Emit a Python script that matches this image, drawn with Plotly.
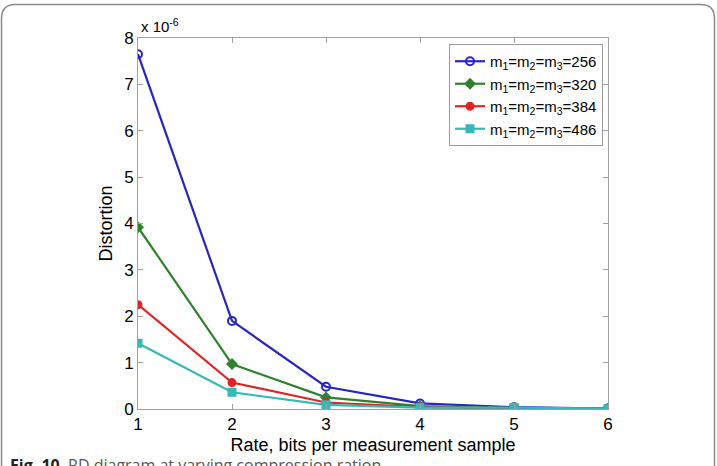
import plotly.graph_objects as go

rate = [1, 2, 3, 4, 5, 6]
d256 = [7.65, 1.90, 0.48, 0.12, 0.04, 0.01]
d320 = [3.92, 0.97, 0.25, 0.06, 0.02, 0.005]
d384 = [2.25, 0.57, 0.14, 0.04, 0.01, 0.003]
d486 = [1.42, 0.36, 0.09, 0.03, 0.03, 0.01]
names = ["m<sub>1</sub>=m<sub>2</sub>=m<sub>3</sub>=256",
         "m<sub>1</sub>=m<sub>2</sub>=m<sub>3</sub>=320",
         "m<sub>1</sub>=m<sub>2</sub>=m<sub>3</sub>=384",
         "m<sub>1</sub>=m<sub>2</sub>=m<sub>3</sub>=486"]
colors = ["#2626c0", "#2e822e", "#e02424", "#35b8b8"]
symbols = ["circle-open", "diamond", "circle", "square"]

W, H = 717, 466
L, R, T, B = 138, 608, 38, 409
fig = go.Figure()
for y, n, c, s in zip([d256, d320, d384, d486], names, colors, symbols):
    fig.add_trace(go.Scatter(
        x=rate, y=y, name=n, mode="lines+markers",
        line=dict(color=c, width=2.2),
        marker=dict(symbol=s, size=8 if s == "circle-open" else 7, color=c,
                    line=dict(color=c, width=2))))

font = "Liberation Sans, Arial, sans-serif"
fig.update_layout(
    width=W, height=H,
    margin=dict(l=L, r=W - R, t=T, b=H - B),
    paper_bgcolor="white", plot_bgcolor="white",
    font=dict(family=font, color="black", size=15),
    showlegend=True,
    legend=dict(x=(603 - L) / (R - L), y=(409 - 44) / (B - T),
                xanchor="right", yanchor="top",
                bordercolor="#9a9a9a", borderwidth=1, bgcolor="white",
                font=dict(size=15, family=font), tracegroupgap=4,
                itemwidth=30),
    xaxis=dict(range=[1, 6], tickvals=[1, 2, 3, 4, 5, 6], showgrid=False,
               zeroline=False, showline=True, linecolor="#a0a0a0", linewidth=1,
               mirror="ticks", ticks="inside", ticklen=5, tickcolor="#a0a0a0",
               tickfont=dict(size=17),
               title=dict(text="Rate, bits per measurement sample",
                          font=dict(size=18), standoff=4)),
    yaxis=dict(range=[0, 8], tickvals=list(range(9)), showgrid=False,
               zeroline=False, showline=True, linecolor="#a0a0a0", linewidth=1,
               mirror="ticks", ticks="inside", ticklen=5, tickcolor="#a0a0a0",
               tickfont=dict(size=17),
               title=dict(text="Distortion", font=dict(size=18), standoff=6)),
)

def px(x):
    return (x - L) / (R - L)

def py(y):
    return (B - y) / (B - T)

# exponent label
fig.add_annotation(x=px(139), y=py(37), xref="paper", yref="paper",
                   text="x 10<sup>-6</sup>", showarrow=False,
                   xanchor="left", yanchor="bottom",
                   font=dict(size=15, family=font))

# card border with rounded top corners
r = 14
x0, x1, y0, y1 = 1.5, 714.5, 4.5, 480
path = (f"M {px(x0)},{py(y1)} L {px(x0)},{py(y0 + r)} "
        f"Q {px(x0)},{py(y0)} {px(x0 + r)},{py(y0)} "
        f"L {px(x1 - r)},{py(y0)} Q {px(x1)},{py(y0)} {px(x1)},{py(y0 + r)} "
        f"L {px(x1)},{py(y1)}")
fig.add_shape(type="path", path=path, xref="paper", yref="paper",
              line=dict(color="#8a8a8a", width=1.5))

# caption (partially cropped at the bottom edge, as in the reference)
fig.add_annotation(x=px(8), y=py(452), xref="paper", yref="paper",
                   text="<b>Fig. 10</b>  <span style='color:#555'>RD diagram at varying compression ration</span>",
                   showarrow=False, xanchor="left", yanchor="top",
                   font=dict(size=16, family="Open Sans, sans-serif", color="#222"))

fig.write_html("out.html")
